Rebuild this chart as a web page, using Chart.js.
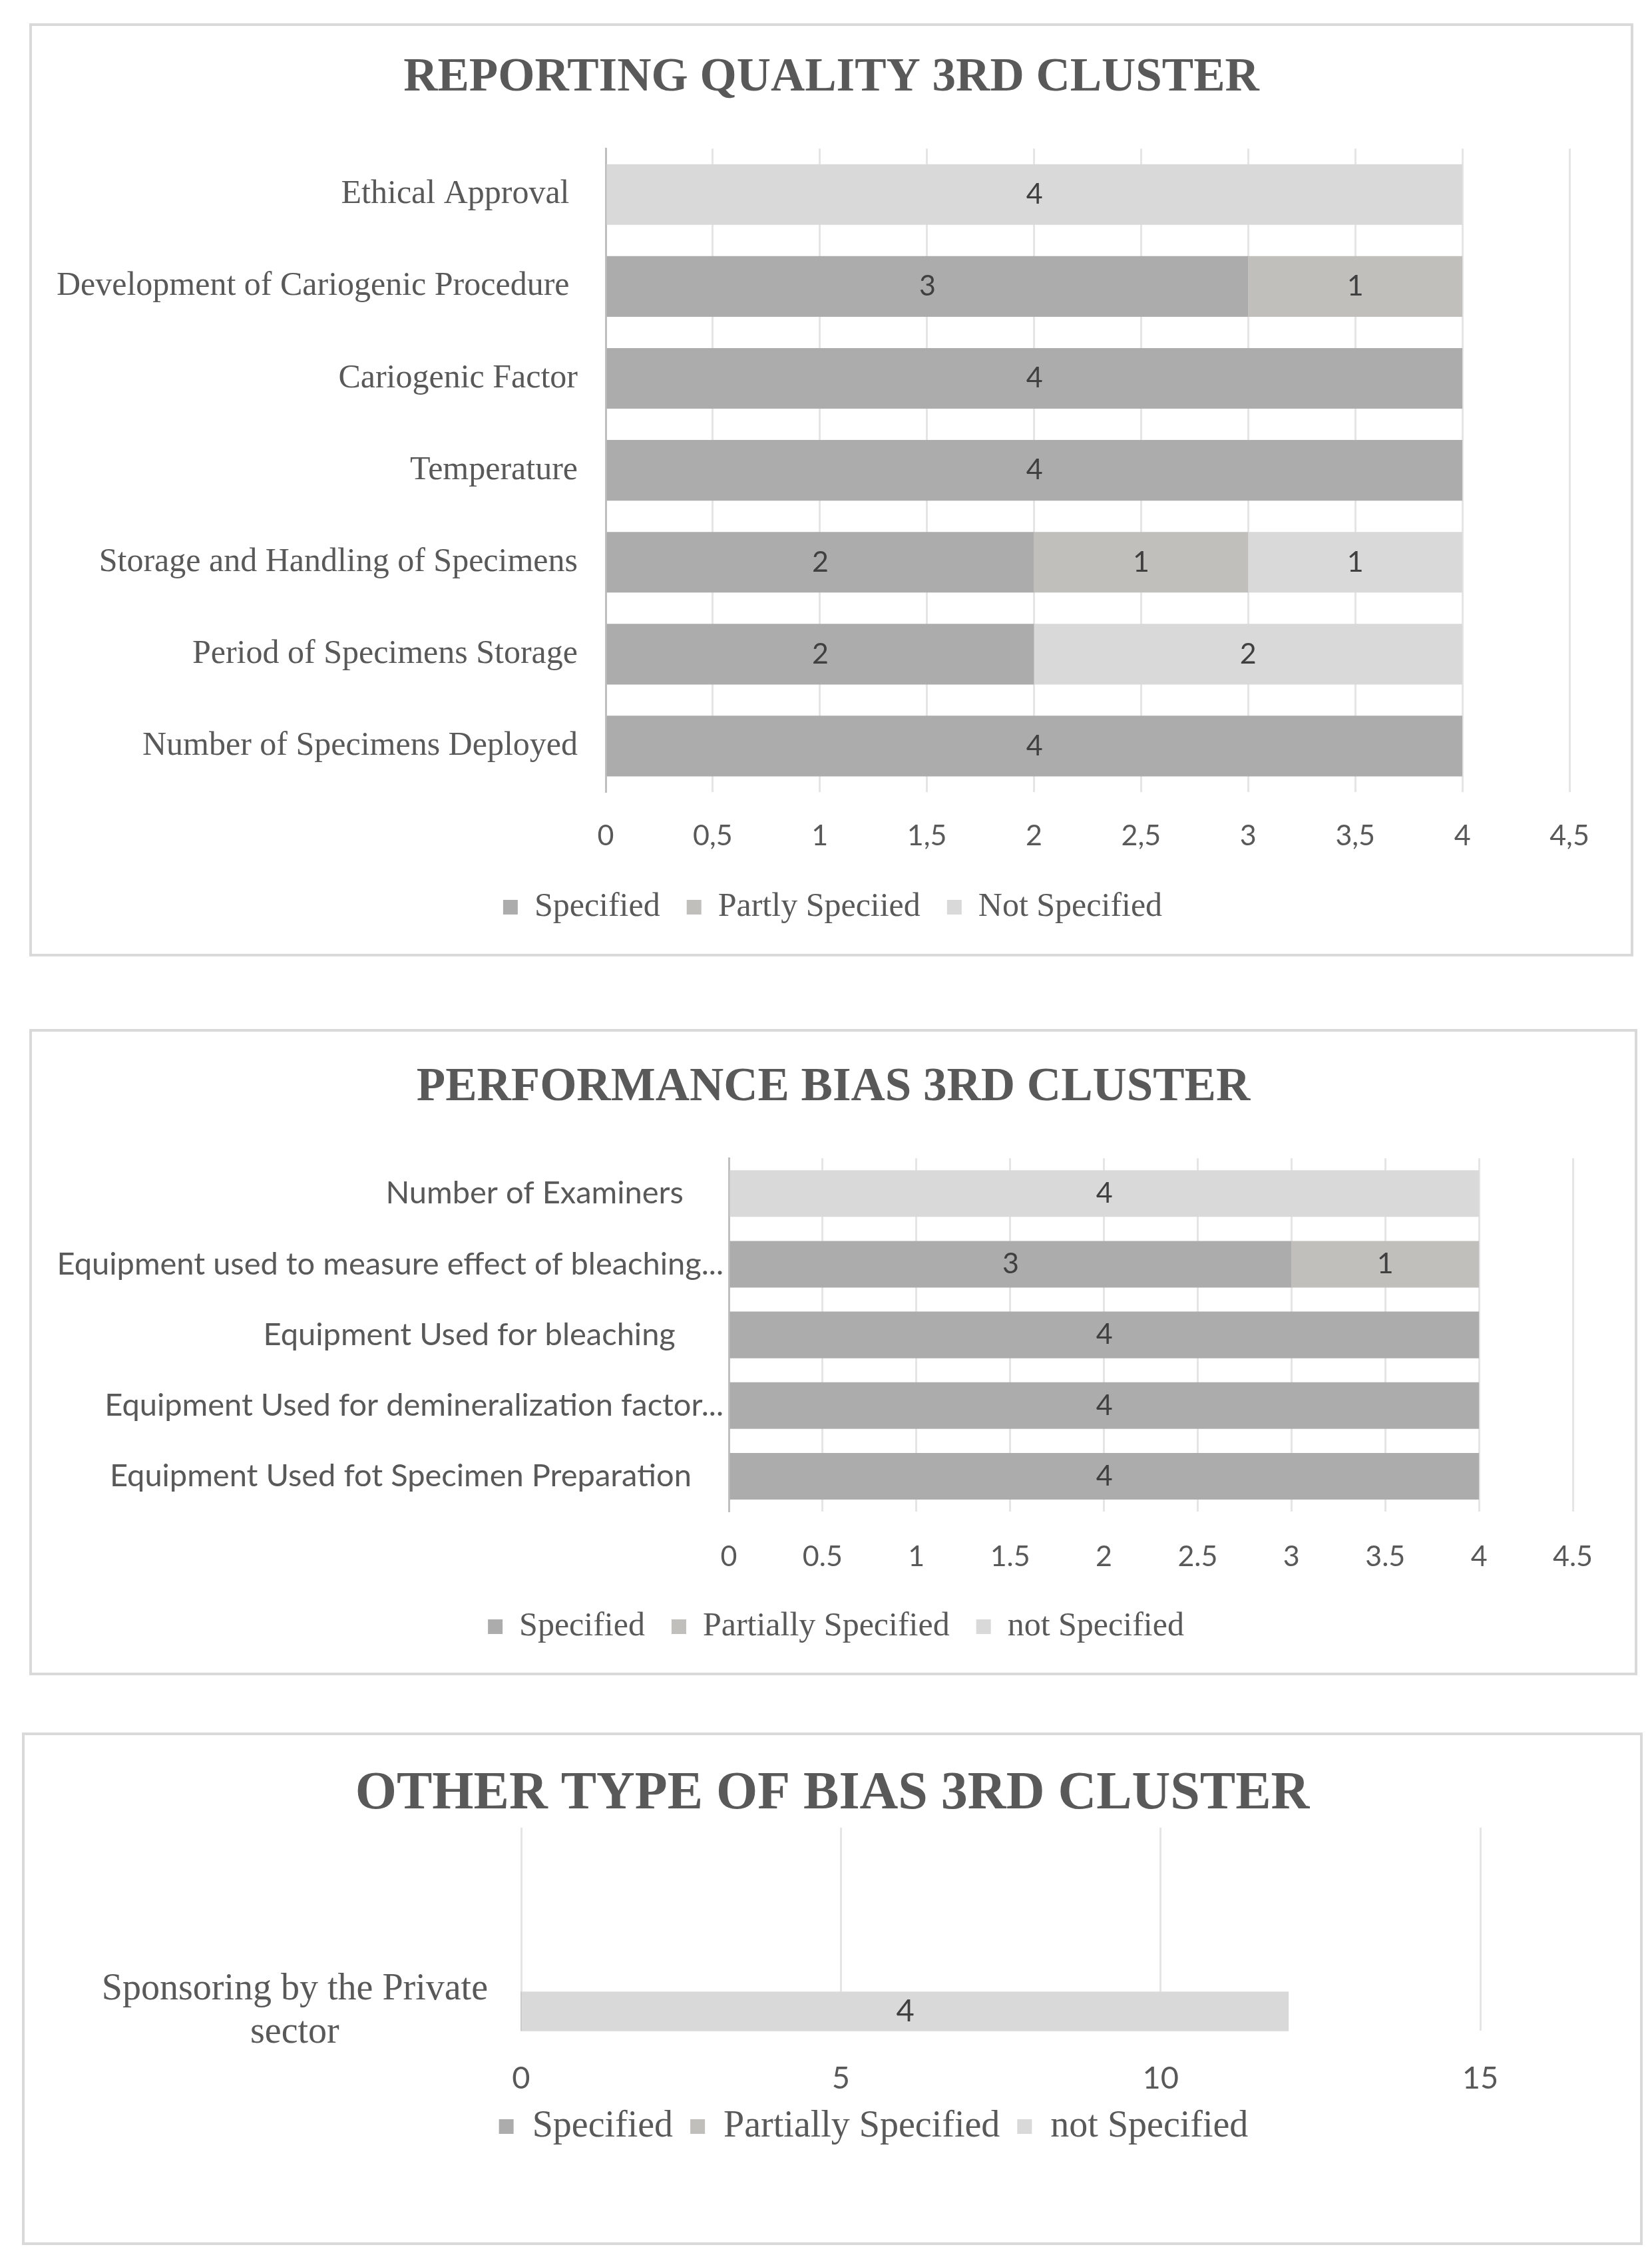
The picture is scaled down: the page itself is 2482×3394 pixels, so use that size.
<!DOCTYPE html>
<html>
<head>
<meta charset="utf-8">
<script src="https://cdn.jsdelivr.net/npm/chart.js@4.4.1/dist/chart.umd.min.js"></script>
<style>
  body { margin: 0; background: #fff; width: 2482px; height: 3394px; position: relative; }
  .panel { position: absolute; border: 4px solid #d9d9d9; background: #fff; }
</style>
</head>
<body>
<div class="panel" style="left:44px; top:35px; width:2402px; height:1394px;"><canvas id="quality"></canvas></div>
<div class="panel" style="left:44px; top:1546px; width:2408px; height:963px;"><canvas id="performance"></canvas></div>
<div class="panel" style="left:33px; top:2603px; width:2427px; height:762px;"><canvas id="other"></canvas></div>
<script>
// reporting quality
var qualityCategories = ["Ethical Approval ", "Development of Cariogenic Procedure ", "Cariogenic Factor", "Temperature",
  "Storage and Handling of Specimens", "Period of Specimens Storage", "Number of Specimens Deployed"];
var qualitySpecified = [0, 3, 4, 4, 2, 2, 4];
var qualityPartly = [0, 1, 0, 0, 1, 0, 0];
var qualityNotSpecified = [4, 0, 0, 0, 1, 2, 0];
var qualityTicks = ["0", "0,5", "1", "1,5", "2", "2,5", "3", "3,5", "4", "4,5"];

// performance bias (labels keep the trailing blanks of the original)
var performanceCategories = ["Number of Examiners     ", "Equipment used to measure effect of bleaching...",
  "Equipment Used for bleaching      ", "Equipment Used for demineralization factor...",
  "Equipment Used fot Specimen Preparation    "];
var performanceSpecified = [0, 3, 4, 4, 4];
var performancePartly = [0, 1, 0, 0, 0];
var performanceNotSpecified = [4, 0, 0, 0, 0];
var performanceTicks = ["0", "0.5", "1", "1.5", "2", "2.5", "3", "3.5", "4", "4.5"];

// other type of bias: the bar reaches 12 on the axis but its label reads 4
var otherCategories = [["Sponsoring by the Private", "sector"]];
var otherSpecified = [0];
var otherPartly = [0];
var otherNotSpecified = [12];
var otherValueLabels = ["4"];
var otherTicks = ["0", "5", "10", "15"];

var colSpecified = "#acacac";
var colPartly = "#c0bfbc";
var colNot = "#d9d9d9";
var textGrey = "#595959";
var gridGrey = "rgba(0,0,0,0.1)";

Chart.defaults.font.family = "Lato";
Chart.defaults.color = textGrey;

// value labels in the middle of each segment
var barLabels = {
  id: "barLabels",
  afterDraw(chart, args, opts) {
    var ctx = chart.ctx;
    ctx.save();
    ctx.font = opts.size + "px Lato";
    ctx.fillStyle = "#404040";
    ctx.textAlign = "center";
    ctx.textBaseline = "middle";
    chart.data.datasets.forEach((ds, i) => {
      chart.getDatasetMeta(i).data.forEach((bar, j) => {
        if (!ds.data[j]) return;
        var p = bar.getProps(["x", "y", "base"], true);
        var txt = ds.valueLabels ? ds.valueLabels[j] : String(ds.data[j]);
        ctx.fillText(txt, (p.x + p.base) / 2, p.y);
      });
    });
    ctx.restore();
  }
};

var legendShift = {
  id: "legendShift",
  afterLayout(chart, args, opts) {
    if (chart.legend && opts.x) {
      chart.legend.left += opts.x;
      chart.legend.right += opts.x;
    }
  }
};

function rightGap(w) {
  return {
    type: "linear", position: "right", display: true,
    grid: { display: false, drawTicks: false }, border: { display: false },
    ticks: { display: false },
    afterFit: (s) => { s.width = w; }
  };
}

function makeChart(id, c) {
  new Chart(document.getElementById(id), {
    type: "bar",
    data: {
      labels: c.labels,
      datasets: [
        { label: "Specified", data: c.specified, backgroundColor: colSpecified },
        { label: c.partlyName, data: c.partly, backgroundColor: colPartly },
        { label: c.notName, data: c.notSpecified, backgroundColor: colNot, valueLabels: c.valueLabels }
      ]
    },
    plugins: [barLabels, legendShift],
    options: {
      indexAxis: "y",
      responsive: true,
      maintainAspectRatio: false,
      animation: false,
      datasets: { bar: { categoryPercentage: 1, barPercentage: 0.66, barThickness: c.barThickness, borderWidth: 0, clip: false } },
      layout: { padding: { left: 0, right: 0, top: 0, bottom: c.padBottom } },
      scales: {
        x: {
          stacked: true, min: 0, max: c.max, z: 1,
          ticks: {
            stepSize: c.step, padding: c.tickPad, color: textGrey,
            font: { family: "Lato", size: c.tickSize },
            callback: (v, i) => c.ticks[i]
          },
          grid: { color: gridGrey, lineWidth: 3, drawTicks: c.tickLen > 0, tickLength: c.tickLen, tickColor: gridGrey },
          border: { display: false },
          afterFit: (s) => { s.height = c.xHeight; }
        },
        y: {
          stacked: true, z: 1,
          offset: c.yOffset, reverse: c.yReverse,
          ticks: {
            padding: c.labelPad, color: textGrey, crossAlign: c.crossAlign,
            font: { family: c.labelFont, size: c.labelSize, lineHeight: 1.16 }
          },
          grid: { display: false, drawTicks: false },
          border: { display: c.axisLine, color: "#bfbfbf", width: 3 },
          afterFit: (s) => { s.width = c.yWidth; }
        },
        yRight: rightGap(c.rightGap)
      },
      plugins: {
        title: {
          display: true, text: c.title, color: textGrey,
          font: { family: "Liberation Serif", size: c.titleSize, weight: "bold" },
          padding: { top: c.titleTop, bottom: c.titleBottom }
        },
        legend: {
          position: "bottom",
          labels: {
            boxWidth: 22, boxHeight: 22, padding: c.legendPad, color: textGrey,
            font: { family: "Liberation Serif", size: c.legendSize }
          }
        },
        legendShift: { x: c.legendShift },
        barLabels: { size: c.valueSize },
        tooltip: { enabled: false }
      }
    }
  });
}

makeChart("quality", {
  title: "REPORTING QUALITY 3RD CLUSTER", titleSize: 71, titleTop: 36, titleBottom: 63,
  labels: qualityCategories, specified: qualitySpecified, partly: qualityPartly, notSpecified: qualityNotSpecified,
  partlyName: "Partly Speciied", notName: "Not Specified",
  max: 4.5, step: 0.5, ticks: qualityTicks, tickSize: 43, tickPad: 40, tickLen: 0, xHeight: 108,
  labelFont: "Liberation Serif", labelSize: 50, labelPad: 42, yWidth: 862, crossAlign: "near",
  yOffset: true, yReverse: false, axisLine: true, rightGap: 92,
  legendPad: 40, legendSize: 50, legendShift: 2, padBottom: 35, valueSize: 43
});

makeChart("performance", {
  title: "PERFORMANCE BIAS 3RD CLUSTER", titleSize: 71, titleTop: 42, titleBottom: 63,
  labels: performanceCategories, specified: performanceSpecified, partly: performancePartly, notSpecified: performanceNotSpecified,
  partlyName: "Partially Specified", notName: "not Specified",
  max: 4.5, step: 0.5, ticks: performanceTicks, tickSize: 43, tickPad: 42, tickLen: 0, xHeight: 108,
  labelFont: "Lato", labelSize: 47, labelPad: 8, yWidth: 1047, crossAlign: "near",
  yOffset: true, yReverse: false, axisLine: true, rightGap: 93,
  legendPad: 40, legendSize: 50, legendShift: 4, padBottom: 34, valueSize: 43
});

makeChart("other", {
  title: "OTHER TYPE OF BIAS 3RD CLUSTER", titleSize: 80, titleTop: 41, titleBottom: 2,
  labels: otherCategories, specified: otherSpecified, partly: otherPartly, notSpecified: otherNotSpecified,
  valueLabels: otherValueLabels, partlyName: "Partially Specified", notName: "not Specified",
  max: 15, step: 5, ticks: otherTicks, tickSize: 47, tickPad: 44, tickLen: 29, xHeight: 119,
  labelFont: "Liberation Serif", labelSize: 56, labelPad: 50, yWidth: 746, crossAlign: "center",
  yOffset: false, yReverse: true, axisLine: false, rightGap: 240, barThickness: 59,
  legendPad: 26, legendSize: 56, legendShift: 62, padBottom: 136, valueSize: 47
});
</script>
</body>
</html>
